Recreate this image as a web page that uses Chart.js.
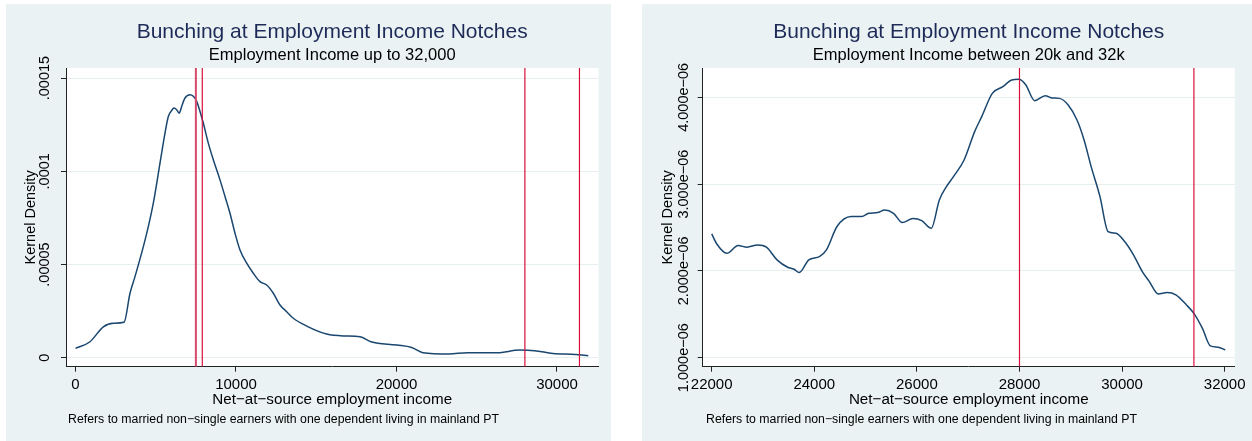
<!DOCTYPE html>
<html>
<head>
<meta charset="utf-8">
<script src="https://cdn.jsdelivr.net/npm/chart.js@4.4.1/dist/chart.umd.min.js"></script>
<style>
  html, body { margin: 0; padding: 0; background: #ffffff; }
  body { width: 1252px; height: 441px; position: relative; overflow: hidden; }
  .panel { position: absolute; background: #eaf2f3; }
  #panelA { left: 6px; top: 4px; width: 605px; height: 437px; }
  #panelB { left: 642px; top: 4px; width: 610px; height: 437px; }
  canvas { display: block; }
</style>
</head>
<body>
<div class="panel" id="panelA"><canvas id="chartA" width="605" height="437"></canvas></div>
<div class="panel" id="panelB"><canvas id="chartB" width="610" height="437"></canvas></div>
<script>
// ---- Full range: employment income up to 32,000 ----
const fullIncome = [0, 903, 1734, 2355, 3022, 3396, 3707, 4227, 4536, 4848, 5265, 5576, 5784, 5992,
  6137, 6303, 6467, 6614, 6822, 7134, 7340, 7551, 7757, 7963, 8274, 8586, 9003, 9315, 9626, 9938,
  10249, 10667, 11078, 11495, 11913, 12324, 12741, 13159, 13570, 14405, 15651, 16685, 17726, 18405,
  20025, 20947, 21645, 23265, 24424, 26274, 27670, 28593, 29751, 31140, 31950];
const fullDensity = [5.0e-6, 8.6e-6, 16.6e-6, 18.5e-6, 19.0e-6, 34.6e-6, 43.5e-6, 59.6e-6, 70.3e-6, 82.9e-6,
  104.4e-6, 120.5e-6, 129.4e-6, 132.6e-6, 133.9e-6, 133.0e-6, 131.2e-6, 134.8e-6, 139.3e-6, 141.1e-6,
  140.2e-6, 137.5e-6, 132.1e-6, 125.9e-6, 115.1e-6, 106.2e-6, 95.4e-6, 86.5e-6, 77.5e-6, 66.8e-6,
  57.8e-6, 50.7e-6, 45.3e-6, 40.8e-6, 39.0e-6, 34.6e-6, 28.3e-6, 24.7e-6, 21.2e-6, 17.0e-6,
  12.7e-6, 11.7e-6, 11.3e-6, 8.6e-6, 6.8e-6, 5.5e-6, 2.7e-6, 2.0e-6, 2.7e-6, 2.7e-6,
  4.1e-6, 3.8e-6, 2.3e-6, 1.8e-6, 1.1e-6];
const fullNotches = [7500, 7900, 28000, 31400];
const fullXTicks = [0, 10000, 20000, 30000];
const fullYTicks = [0, 0.00005, 0.0001, 0.00015];
const fullYTickLabels = ['0', '.00005', '.0001', '.00015'];

// ---- Zoomed range: employment income between 20k and 32k ----
const zoomIncome = [22001, 22104, 22296, 22517, 22689, 22893, 23067, 23274, 23481, 23605, 23707,
  23893, 24100, 24237, 24443, 24718, 24925, 25062, 25234, 25372, 25544, 25716, 25922, 26094, 26280,
  26438, 26576, 26713, 26920, 27126, 27264, 27470, 27677, 27849, 27986, 28124, 28296, 28502, 28640,
  28777, 28949, 29121, 29259, 29397, 29569, 29727, 29878, 30050, 30222, 30394, 30532, 30704, 30876,
  31048, 31254, 31406, 31564, 31722, 31873, 32011];
const zoomDensity = [2.426e-6, 2.307e-6, 2.203e-6, 2.292e-6, 2.273e-6, 2.299e-6, 2.273e-6, 2.127e-6,
  2.042e-6, 2.019e-6, 1.981e-6, 2.127e-6, 2.165e-6, 2.242e-6, 2.511e-6, 2.626e-6, 2.626e-6, 2.664e-6,
  2.672e-6, 2.702e-6, 2.664e-6, 2.557e-6, 2.603e-6, 2.580e-6, 2.491e-6, 2.818e-6, 2.971e-6, 3.086e-6,
  3.278e-6, 3.605e-6, 3.777e-6, 4.046e-6, 4.123e-6, 4.200e-6, 4.207e-6, 4.142e-6, 3.962e-6, 4.019e-6,
  3.992e-6, 3.988e-6, 3.912e-6, 3.739e-6, 3.509e-6, 3.202e-6, 2.856e-6, 2.453e-6, 2.434e-6, 2.338e-6,
  2.184e-6, 1.992e-6, 1.877e-6, 1.735e-6, 1.750e-6, 1.724e-6, 1.608e-6, 1.505e-6, 1.340e-6, 1.136e-6,
  1.121e-6, 1.090e-6];
const zoomNotches = [28000, 31400];
const zoomXTicks = [22000, 24000, 26000, 28000, 30000, 32000];
const zoomYTicks = [1e-6, 2e-6, 3e-6, 4e-6];
const zoomYTickLabels = ['1.000e\u221206', '2.000e\u221206', '3.000e\u221206', '4.000e\u221206'];

const mainTitle = 'Bunching at Employment Income Notches';
const fullSubtitle = 'Employment Income up to 32,000';
const zoomSubtitle = 'Employment Income between 20k and 32k';
const xTitle = 'Net\u2212at\u2212source employment income';
const yTitle = 'Kernel Density';
const noteText = 'Refers to married non\u2212single earners with one dependent living in mainland PT';

const FONT = '"Liberation Sans", Arial, Helvetica, sans-serif';
const NAVY = '#1a476f';
const NOTCH = '#d8103c';
const NOTCH_SOFT = '#d6496b';
const TITLE_COLOR = '#1e2b58';
const GRID = '#e6eef0';

// White plot region inside the tinted graph region.
const plotFill = {
  id: 'plotFill',
  beforeDraw(chart) {
    const a = chart.chartArea;
    const ctx = chart.ctx;
    ctx.save();
    ctx.fillStyle = '#ffffff';
    ctx.fillRect(a.left, a.top, a.right - a.left, a.bottom - a.top);
    ctx.restore();
  }
};

// Titles, axis titles, tick labels (y labels rotated) and the note.
const panelText = {
  id: 'panelText',
  afterDraw(chart, args, o) {
    const ctx = chart.ctx;
    const a = chart.chartArea;
    const cx = (a.left + a.right) / 2;
    const xs = chart.scales.x;
    const ys = chart.scales.y;
    ctx.save();
    ctx.textAlign = 'center';
    ctx.textBaseline = 'alphabetic';
    ctx.fillStyle = TITLE_COLOR;
    ctx.font = '21px ' + FONT;
    ctx.fillText(o.title, cx, 33.5);
    ctx.fillStyle = '#000';
    ctx.font = '16.5px ' + FONT;
    ctx.fillText(o.subtitle, cx, 55.5);
    // x tick labels
    ctx.font = '15px ' + FONT;
    o.xTicks.forEach(v => ctx.fillText(String(v), xs.getPixelForValue(v), 384.5));
    ctx.font = '15.2px ' + FONT;
    ctx.fillText(o.xTitle, cx, 399.5);
    ctx.textAlign = 'left';
    ctx.font = '12.3px ' + FONT;
    ctx.fillText(o.note, o.noteX, 419);
    // vertical texts
    ctx.textAlign = 'center';
    ctx.textBaseline = 'middle';
    ctx.font = '14.5px ' + FONT;
    o.yTicks.forEach((v, i) => {
      const py = ys.getPixelForValue(v);
      ctx.save();
      ctx.translate(o.yLabelX, py);
      ctx.rotate(-Math.PI / 2);
      ctx.fillText(o.yLabels[i], 0, 0);
      ctx.restore();
    });
    ctx.save();
    ctx.translate(o.yTitleX, (a.top + a.bottom) / 2);
    ctx.rotate(-Math.PI / 2);
    ctx.fillText(o.yTitle, 0, 0);
    ctx.restore();
    ctx.restore();
  }
};

function buildChart(id, cfg) {
  const curve = cfg.income.map((x, i) => ({ x: x, y: cfg.density[i] }));
  const datasets = cfg.notches.map((n, i) => {
    const soft = cfg.thickFirst && i === 0;
    return {
      data: [{ x: n, y: cfg.yMin }, { x: n, y: cfg.yMax }],
      borderColor: soft ? NOTCH_SOFT : NOTCH,
      borderWidth: soft ? 2 : 1.2,
      pointRadius: 0,
      showLine: true,
      order: 0
    };
  });
  datasets.push({
    data: curve,
    borderColor: NAVY,
    borderWidth: 1.5,
    pointRadius: 0,
    showLine: true,
    cubicInterpolationMode: 'monotone',
    order: 1
  });
  return new Chart(document.getElementById(id), {
    type: 'scatter',
    data: { datasets: datasets },
    plugins: [plotFill, panelText],
    options: {
      responsive: false,
      animation: false,
      devicePixelRatio: 1,
      layout: { padding: { left: 0, top: 64, right: cfg.padRight, bottom: 0 } },
      plugins: {
        legend: { display: false },
        tooltip: { enabled: false },
        title: { display: false },
        panelText: {
          title: mainTitle, subtitle: cfg.subtitle, xTitle: xTitle, yTitle: yTitle,
          note: noteText, noteX: cfg.noteX, xTicks: cfg.xTicks, yTicks: cfg.yTicks,
          yLabels: cfg.yLabels, yLabelX: cfg.yLabelX, yTitleX: cfg.yTitleX
        }
      },
      scales: {
        x: {
          type: 'linear',
          min: cfg.xMin, max: cfg.xMax,
          afterBuildTicks: s => { s.ticks = cfg.xTicks.map(v => ({ value: v })); },
          afterFit: s => { s.height = 74.3; },
          ticks: { display: false },
          grid: { drawOnChartArea: false, drawTicks: true, tickLength: 5, tickColor: '#222', lineWidth: 1 },
          border: { display: true, color: '#222', width: 1 }
        },
        y: {
          type: 'linear',
          min: cfg.yMin, max: cfg.yMax,
          afterBuildTicks: s => { s.ticks = cfg.yTicks.map(v => ({ value: v })); },
          afterFit: s => { s.width = cfg.yWidth; },
          ticks: { display: false },
          grid: { drawOnChartArea: true, color: GRID, lineWidth: 1, drawTicks: true, tickLength: 5, tickColor: '#222' },
          border: { display: true, color: '#222', width: 1 }
        }
      }
    }
  });
}

buildChart('chartA', {
  income: fullIncome, density: fullDensity, notches: fullNotches, thickFirst: true,
  xTicks: fullXTicks, yTicks: fullYTicks, yLabels: fullYTickLabels, subtitle: fullSubtitle,
  xMin: -592, xMax: 32580, yMin: -4.8e-6, yMax: 155.4e-6,
  yWidth: 60, padRight: 12.6, noteX: 62, yLabelX: 38.5, yTitleX: 25
});

buildChart('chartB', {
  income: zoomIncome, density: zoomDensity, notches: zoomNotches, thickFirst: false,
  xTicks: zoomXTicks, yTicks: zoomYTicks, yLabels: zoomYTickLabels, subtitle: zoomSubtitle,
  xMin: 21825, xMax: 32197, yMin: 0.896e-6, yMax: 4.338e-6,
  yWidth: 60.7, padRight: 17.2, noteX: 64, yLabelX: 42, yTitleX: 25.5
});
</script>
</body>
</html>
